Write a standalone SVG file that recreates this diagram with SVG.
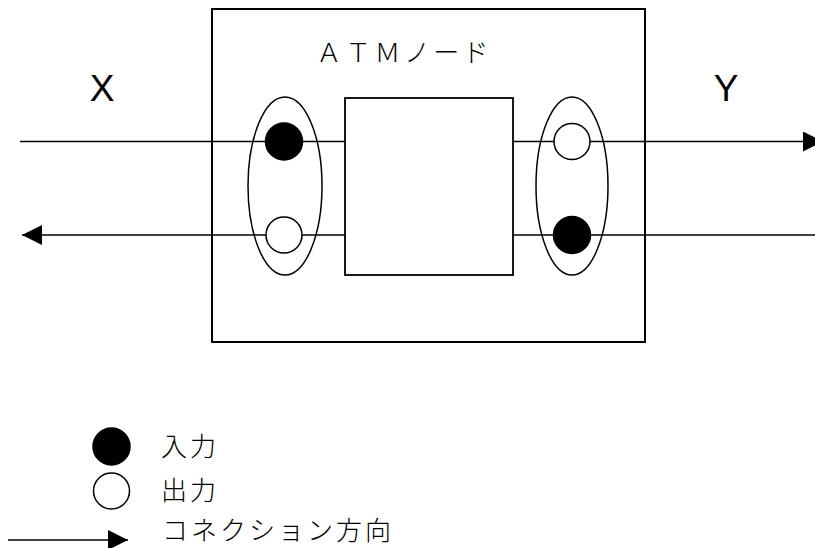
<svg xmlns="http://www.w3.org/2000/svg" width="815" height="548" viewBox="0 0 815 548">
<defs>
<style>
.box{fill:#fff;stroke:#000;stroke-width:2}
.ln{fill:none;stroke:#000;stroke-width:1.5}
.ell{fill:none;stroke:#000;stroke-width:1.5}
.in{fill:#000;stroke:#000;stroke-width:1.5}
.out{fill:#fff;stroke:#000;stroke-width:1.5}
.lat{font-family:"Liberation Sans",Arial,sans-serif;font-size:37px;fill:#000}
.jp{font-family:"Noto Sans CJK JP","Noto Sans CJK SC",sans-serif;font-size:26px;font-weight:300;fill:#000;letter-spacing:3px}
</style>
<marker id="ah" markerWidth="20" markerHeight="20" viewBox="0 0 20 20" refX="20" refY="10" orient="auto" markerUnits="userSpaceOnUse">
<path d="M0,0 L20,10 L0,20 Z" fill="#000"/>
</marker>
</defs>
<g id="atm-node">
<rect class="box" x="212" y="9" width="433" height="333"/>
<text class="jp" x="316" y="62" style="letter-spacing:3.3px">ＡＴＭノード</text>
</g>
<g id="switch">
<rect class="box" x="345" y="98" width="168" height="177" style="stroke-width:1.8"/>
</g>
<g id="label-x"><text class="lat" x="102" y="101" text-anchor="middle">X</text></g>
<g id="label-y"><text class="lat" x="726" y="101" text-anchor="middle">Y</text></g>
<g id="connectors">
<line class="ln" x1="20" y1="141.5" x2="345" y2="141.5"/>
<line class="ln" x1="345" y1="235" x2="22" y2="235" marker-end="url(#ah)"/>
<line class="ln" x1="513" y1="141.5" x2="823" y2="141.5" marker-end="url(#ah)"/>
<line class="ln" x1="513" y1="235" x2="815" y2="235"/>
</g>
<g id="port-x">
<ellipse class="ell" cx="285" cy="186" rx="37" ry="89"/>
<circle class="in" cx="284" cy="141.5" r="18.5"/>
<circle class="out" cx="284" cy="235" r="18"/>
</g>
<g id="port-y">
<ellipse class="ell" cx="572" cy="186" rx="36" ry="89"/>
<circle class="out" cx="572" cy="141.5" r="18"/>
<circle class="in" cx="572" cy="235" r="18.5"/>
</g>
<g id="legend">
<circle class="in" cx="111.5" cy="446.5" r="18.5"/>
<text class="jp" x="161" y="456">入力</text>
<circle class="out" cx="111.5" cy="491" r="18"/>
<text class="jp" x="161" y="500">出力</text>
<line class="ln" x1="8" y1="540" x2="128" y2="540" marker-end="url(#ah)"/>
<text class="jp" x="162" y="540">コネクション方向</text>
</g>
</svg>
